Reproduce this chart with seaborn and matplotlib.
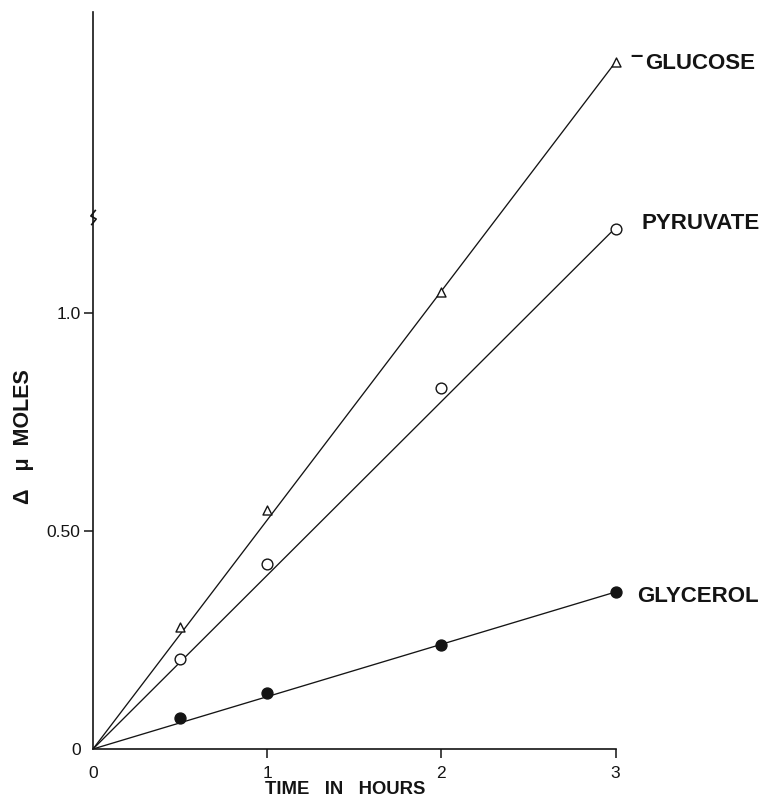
import numpy as np
import pandas as pd
import matplotlib
matplotlib.use("Agg")
import matplotlib.pyplot as plt
from matplotlib.path import Path
import seaborn as sns

# ---- data ----
hours = [0.5, 1, 2, 3]
glucose = [0.280, 0.547, 1.048, 1.575]
pyruvate = [0.207, 0.425, 0.828, 1.193]
glycerol = [0.071, 0.129, 0.239, 0.361]

fit_hours = [0, 3]
glucose_fit = [0, 1.575]
pyruvate_fit = [0, 1.195]
glycerol_fit = [0, 0.360]

series_names = ["GLUCOSE", "PYRUVATE", "GLYCEROL"]
label_texts = ["GLUCOSE", "PYRUVATE", "GLYCEROL"]

x_ticks = [0, 1, 2, 3]
x_tick_labels = ["0", "1", "2", "3"]
y_ticks = [0, 0.5, 1.0]
y_tick_labels = ["0", "0.50", "1.0"]
y_break = 1.22
x_label = "TIME   IN   HOURS"
y_label = "\u0394   \u03bc  MOLES"

# ---- style ----
sns.set_theme(style="ticks")
plt.rcParams["font.family"] = ["Liberation Sans", "DejaVu Sans"]
INK = "#141414"

fig = plt.figure(figsize=(7.61, 8.0), dpi=100)
ax = fig.add_axes([93 / 761, 1 - 749 / 800, (615.5 - 93) / 761, (749 - 12) / 800])

points = pd.DataFrame({
    "hours": hours * 3,
    "umol": glucose + pyruvate + glycerol,
    "substrate": np.repeat(series_names, len(hours)),
})
fits = pd.DataFrame({
    "hours": fit_hours * 3,
    "umol": glucose_fit + pyruvate_fit + glycerol_fit,
    "substrate": np.repeat(series_names, len(fit_hours)),
})

sns.lineplot(data=fits, x="hours", y="umol", hue="substrate",
             palette={n: INK for n in series_names}, linewidth=0.95,
             legend=False, ax=ax, zorder=2)

marker_styles = {
    "GLUCOSE": dict(marker="^", s=42, facecolor="white"),
    "PYRUVATE": dict(marker="o", s=60, facecolor="white"),
    "GLYCEROL": dict(marker="o", s=62, facecolor=INK),
}
for name in series_names:
    st = marker_styles[name]
    sns.scatterplot(data=points[points["substrate"] == name], x="hours", y="umol",
                    marker=st["marker"], s=st["s"], facecolor=st["facecolor"],
                    edgecolor=INK, linewidth=1.0, ax=ax, zorder=3,
                    clip_on=False, legend=False)

# series labels at the right end (baseline-anchored, pixel offsets)
label_offsets = {"GLUCOSE": (30, -7), "PYRUVATE": (26, 0), "GLYCEROL": (22, -10)}
last_vals = {"GLUCOSE": glucose[-1], "PYRUVATE": pyruvate[-1], "GLYCEROL": glycerol[-1]}
for name, txt in zip(series_names, label_texts):
    ax.annotate(txt, xy=(hours[-1], last_vals[name]), xytext=label_offsets[name],
                textcoords="offset pixels", ha="left", va="baseline",
                fontsize=16, fontweight="bold", color=INK, annotation_clip=False)
# the raised dash printed before GLUCOSE
ax.annotate("\u2013", xy=(hours[-1], last_vals["GLUCOSE"]), xytext=(15, 0),
            textcoords="offset pixels", ha="left", va="baseline",
            fontsize=16, fontweight="bold", color=INK, annotation_clip=False)

# axis break mark
zig = Path([(-0.3, -1.0), (0.35, -0.2), (-0.35, 0.2), (0.3, 1.0)],
           [Path.MOVETO, Path.LINETO, Path.LINETO, Path.LINETO])
ax.plot([0], [y_break], marker=zig, ms=11, mew=1.2, mfc="none", mec=INK,
        ls="none", clip_on=False, zorder=4)

# axes
ax.set_xlim(0, 3)
ax.set_ylim(0, 1.69)
ax.set_xticks(x_ticks, x_tick_labels)
ax.set_yticks(y_ticks, y_tick_labels)
ax.tick_params(axis="both", direction="out", length=6.5, width=1.1,
               color=INK, labelcolor=INK, labelsize=12.5)
ax.tick_params(axis="x", pad=6)
ax.tick_params(axis="y", pad=2.5)
ax.xaxis.get_major_ticks()[0].tick1line.set_visible(False)
ax.yaxis.get_major_ticks()[0].tick1line.set_visible(False)
sns.despine(ax=ax)
for side in ("left", "bottom"):
    ax.spines[side].set_linewidth(1.2)
    ax.spines[side].set_color(INK)

ax.set_xlabel(x_label, fontsize=13.3, fontweight="bold", color=INK)
ax.xaxis.set_label_coords(0.482, -0.044)
ax.set_ylabel(y_label, fontsize=15.5, fontweight="bold", color=INK)
ax.yaxis.set_label_coords(-0.112, 0.424)

fig.savefig("out.png", dpi=100, facecolor="white")
